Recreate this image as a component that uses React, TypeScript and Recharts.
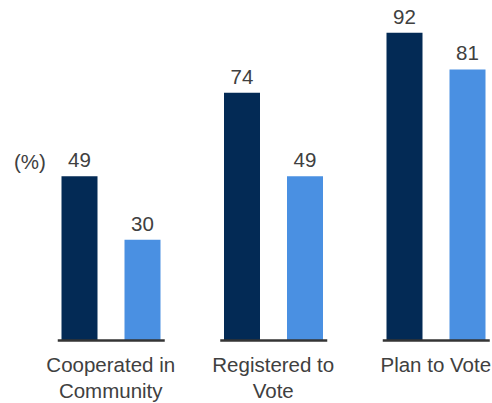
import { BarChart, Bar, XAxis, YAxis, LabelList, Customized } from 'recharts'

const categories = ['Cooperated in Community', 'Registered to Vote', 'Plan to Vote']
const tickLines: Record<string, string[]> = {
  'Cooperated in Community': ['Cooperated in', 'Community'],
  'Registered to Vote': ['Registered to', 'Vote'],
  'Plan to Vote': ['Plan to Vote'],
}
const darkValues = [49, 74, 92]
const lightValues = [30, 49, 81]
const unitLabel = '(%)'

const data = categories.map((name, i) => ({
  name,
  dark: darkValues[i],
  light: lightValues[i],
}))

const FONT = '"Liberation Sans", Arial, Helvetica, sans-serif'
const TEXT = '#404040'
const DARK = '#032a55'
const LIGHT = '#4a90e2'

const CategoryTick = (props: any) => {
  const { x, y, payload } = props
  const lines = tickLines[payload.value] || [payload.value]
  return (
    <g>
      <line x1={x - 53} x2={x + 54} y1={y + 0.5} y2={y + 0.5} stroke="#353535" strokeWidth={2.6} />
      {lines.map((ln, i) => (
        <text
          key={i}
          x={x}
          y={y + 31.5 + i * 26.5}
          textAnchor="middle"
          fontSize={20.5}
          fontFamily={FONT}
          fill={TEXT}
        >
          {ln}
        </text>
      ))}
    </g>
  )
}

const UnitLabel = () => (
  <text x={14} y={168.5} fontSize={20.5} fontFamily={FONT} fill={TEXT}>
    {unitLabel}
  </text>
)

export default function App() {
  return (
    <div
      style={{
        position: 'absolute',
        left: 0,
        top: 0,
        width: 492,
        height: 403,
        overflow: 'hidden',
        background: '#fff',
      }}
    >
      <BarChart
        width={520}
        height={403}
        data={data}
        margin={{ top: 6, right: 3, bottom: 0, left: 29.5 }}
        barSize={36}
        barGap={27}
      >
        <XAxis
          dataKey="name"
          height={63}
          axisLine={false}
          tickLine={false}
          tickSize={0}
          tickMargin={0}
          interval={0}
          tick={<CategoryTick />}
        />
        <YAxis hide domain={[0, 100]} />
        <Bar dataKey="dark" fill={DARK} isAnimationActive={false}>
          <LabelList dataKey="dark" position="top" offset={9} fontSize={20.5} fontFamily={FONT} fill={TEXT} />
        </Bar>
        <Bar dataKey="light" fill={LIGHT} isAnimationActive={false}>
          <LabelList dataKey="light" position="top" offset={9} fontSize={20.5} fontFamily={FONT} fill={TEXT} />
        </Bar>
        <Customized component={UnitLabel} />
      </BarChart>
    </div>
  )
}
